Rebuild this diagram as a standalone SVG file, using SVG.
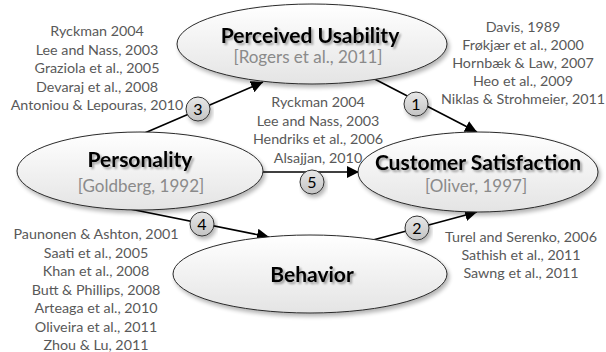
<svg xmlns="http://www.w3.org/2000/svg" width="606" height="352" viewBox="0 0 606 352">
<defs>
<linearGradient id="gE" x1="0" y1="0" x2="0" y2="1">
<stop offset="0" stop-color="#ffffff"/>
<stop offset="1" stop-color="#e4e4e4"/>
</linearGradient>
<linearGradient id="gC" x1="0" y1="0" x2="0" y2="1">
<stop offset="0" stop-color="#e8e8e8"/>
<stop offset="1" stop-color="#c4c4c4"/>
</linearGradient>
<filter id="sh" x="-10%" y="-20%" width="125%" height="150%">
<feGaussianBlur in="SourceAlpha" stdDeviation="2"/>
<feOffset dx="2" dy="3" result="b"/>
<feComponentTransfer><feFuncA type="linear" slope="0.3"/></feComponentTransfer>
<feMerge><feMergeNode/><feMergeNode in="SourceGraphic"/></feMerge>
</filter>
<filter id="tsh" x="-10%" y="-30%" width="120%" height="160%">
<feGaussianBlur in="SourceAlpha" stdDeviation="1.2"/>
<feOffset dx="1.5" dy="2" result="b"/>
<feComponentTransfer><feFuncA type="linear" slope="0.35"/></feComponentTransfer>
<feMerge><feMergeNode/><feMergeNode in="SourceGraphic"/></feMerge>
</filter>
<marker id="ah" markerUnits="userSpaceOnUse" markerWidth="14" markerHeight="12" refX="12" refY="6" orient="auto">
<path d="M0,0 L12,6 L0,12 Z" fill="#000"/>
</marker>
</defs>
<style>
.ell{fill:url(#gE);stroke:#2a2a2a;stroke-width:1;filter:url(#sh)}
.ttl{font-family:Lato,"Liberation Sans",sans-serif;font-weight:bold;font-size:21px;fill:#000;text-anchor:middle;filter:url(#tsh)}
.sub{font-family:Lato,"Liberation Sans",sans-serif;font-size:17px;fill:#8a8a8a;text-anchor:middle}
.cit{font-family:Lato,"Liberation Sans",sans-serif;font-size:14.3px;fill:#595959;text-anchor:middle}
.ln{stroke:#000;stroke-width:1.6;fill:none;marker-end:url(#ah)}
.num circle{fill:url(#gC);stroke:#333;stroke-width:1;filter:url(#sh)}
.num text{font-family:Lato,"Liberation Sans",sans-serif;font-size:16px;fill:#000;text-anchor:middle}
</style>

<g id="connectors">
<path class="ln" d="M360,71.5 L477,132"/>
<path class="ln" d="M360,243.5 L477,212"/>
<path class="ln" d="M140,135 L263,82"/>
<path class="ln" d="M120,207 L269,237"/>
<path class="ln" d="M250,172 L359,172"/>
<g class="num"><circle cx="416" cy="104" r="12"/><text x="416" y="109.5">1</text></g>
<g class="num"><circle cx="417" cy="228" r="12"/><text x="417" y="233.5">2</text></g>
<g class="num"><circle cx="198" cy="109" r="12"/><text x="198" y="114.5">3</text></g>
<g class="num"><circle cx="202" cy="224" r="12"/><text x="202" y="229.5">4</text></g>
<g class="num"><circle cx="312" cy="182" r="12"/><text x="312" y="187.5">5</text></g>
</g>

<g id="perceived-usability">
<ellipse class="ell" cx="312" cy="44" rx="135" ry="40"/>
<text class="ttl" x="310" y="43">Perceived Usability</text>
<text class="sub" x="308" y="63">[Rogers et al., 2011]</text>
</g>

<g id="personality">
<ellipse class="ell" cx="140" cy="171" rx="123" ry="39"/>
<text class="ttl" x="140" y="167">Personality</text>
<text class="sub" x="141" y="192">[Goldberg, 1992]</text>
</g>

<g id="customer-satisfaction">
<ellipse class="ell" cx="478" cy="172" rx="120" ry="40"/>
<text class="ttl" x="478" y="170">Customer Satisfaction</text>
<text class="sub" x="476" y="192">[Oliver, 1997]</text>
</g>

<g id="behavior">
<ellipse class="ell" cx="310" cy="274" rx="137" ry="39"/>
<text class="ttl" x="312" y="282">Behavior</text>
</g>

<g id="refs-usability-personality">
<text class="cit" x="97" y="36">Ryckman 2004</text>
<text class="cit" x="97" y="54.5">Lee and Nass, 2003</text>
<text class="cit" x="97" y="73">Graziola et al., 2005</text>
<text class="cit" x="97" y="91.5">Devaraj et al., 2008</text>
<text class="cit" x="97" y="110">Antoniou &amp; Lepouras, 2010</text>
</g>
<g id="refs-usability-satisfaction">
<text class="cit" x="523" y="32">Davis, 1989</text>
<text class="cit" x="523" y="50">Frøkjær et al., 2000</text>
<text class="cit" x="523" y="68">Hornbæk &amp; Law, 2007</text>
<text class="cit" x="523" y="86">Heo et al., 2009</text>
<text class="cit" x="523" y="104">Niklas &amp; Strohmeier, 2011</text>
</g>
<g id="refs-personality-satisfaction">
<text class="cit" x="318" y="107">Ryckman 2004</text>
<text class="cit" x="318" y="125.5">Lee and Nass, 2003</text>
<text class="cit" x="318" y="144">Hendriks et al., 2006</text>
<text class="cit" x="318" y="162.5">Alsajjan, 2010</text>
</g>
<g id="refs-personality-behavior">
<text class="cit" x="96" y="239">Paunonen &amp; Ashton, 2001</text>
<text class="cit" x="96" y="257.5">Saati et al., 2005</text>
<text class="cit" x="96" y="276">Khan et al., 2008</text>
<text class="cit" x="96" y="294.5">Butt &amp; Phillips, 2008</text>
<text class="cit" x="96" y="313">Arteaga et al., 2010</text>
<text class="cit" x="96" y="331.5">Oliveira et al., 2011</text>
<text class="cit" x="96" y="350">Zhou &amp; Lu, 2011</text>
</g>
<g id="refs-behavior-satisfaction">
<text class="cit" x="521" y="242">Turel and Serenko, 2006</text>
<text class="cit" x="521" y="260">Sathish et al., 2011</text>
<text class="cit" x="521" y="278">Sawng et al., 2011</text>
</g>
</svg>
